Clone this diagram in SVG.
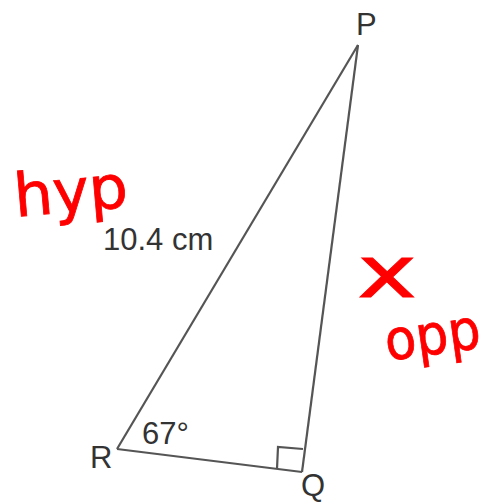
<svg xmlns="http://www.w3.org/2000/svg" width="493" height="503" viewBox="0 0 493 503">
  <style>
    .edge { stroke: #555555; stroke-width: 2.2; fill: none; stroke-linejoin: miter; }
    .lbl { font-family: "Liberation Sans", Arial, sans-serif; font-size: 31px; fill: #333333; }
    .hand { font-family: "DejaVu Sans", sans-serif; fill: #ff0000; stroke: #ff0000; stroke-width: 0.8; }
  </style>
  <rect width="493" height="503" fill="#ffffff"/>
  <g id="connectors">
    <line class="edge" x1="358" y1="45" x2="117" y2="449"/>
    <line class="edge" x1="117" y1="449" x2="302" y2="472"/>
    <line class="edge" x1="302" y1="472" x2="358" y2="45"/>
    <polyline class="edge" points="277,469 278,447 303,449"/>
  </g>
  <g id="node-P"><text class="lbl" x="356" y="35">P</text></g>
  <g id="node-R"><text class="lbl" x="90" y="468">R</text></g>
  <g id="node-Q"><text class="lbl" x="301" y="496">Q</text></g>
  <g id="label-angle"><text class="lbl" x="142" y="444">67°</text></g>
  <g id="label-side"><text class="lbl" x="103" y="250">10.4 cm</text></g>
  <g id="note-hyp"><text class="hand" x="14" y="212" font-size="60" textLength="114" lengthAdjust="spacingAndGlyphs" transform="rotate(-5 70 195)">hyp</text></g>
  <g id="note-x"><text class="hand" x="357" y="297" font-size="72" textLength="60" lengthAdjust="spacingAndGlyphs">x</text></g>
  <g id="note-opp"><text class="hand" x="385" y="354" font-size="56" textLength="96" lengthAdjust="spacingAndGlyphs" transform="rotate(-8 435 340)">opp</text></g>
</svg>
